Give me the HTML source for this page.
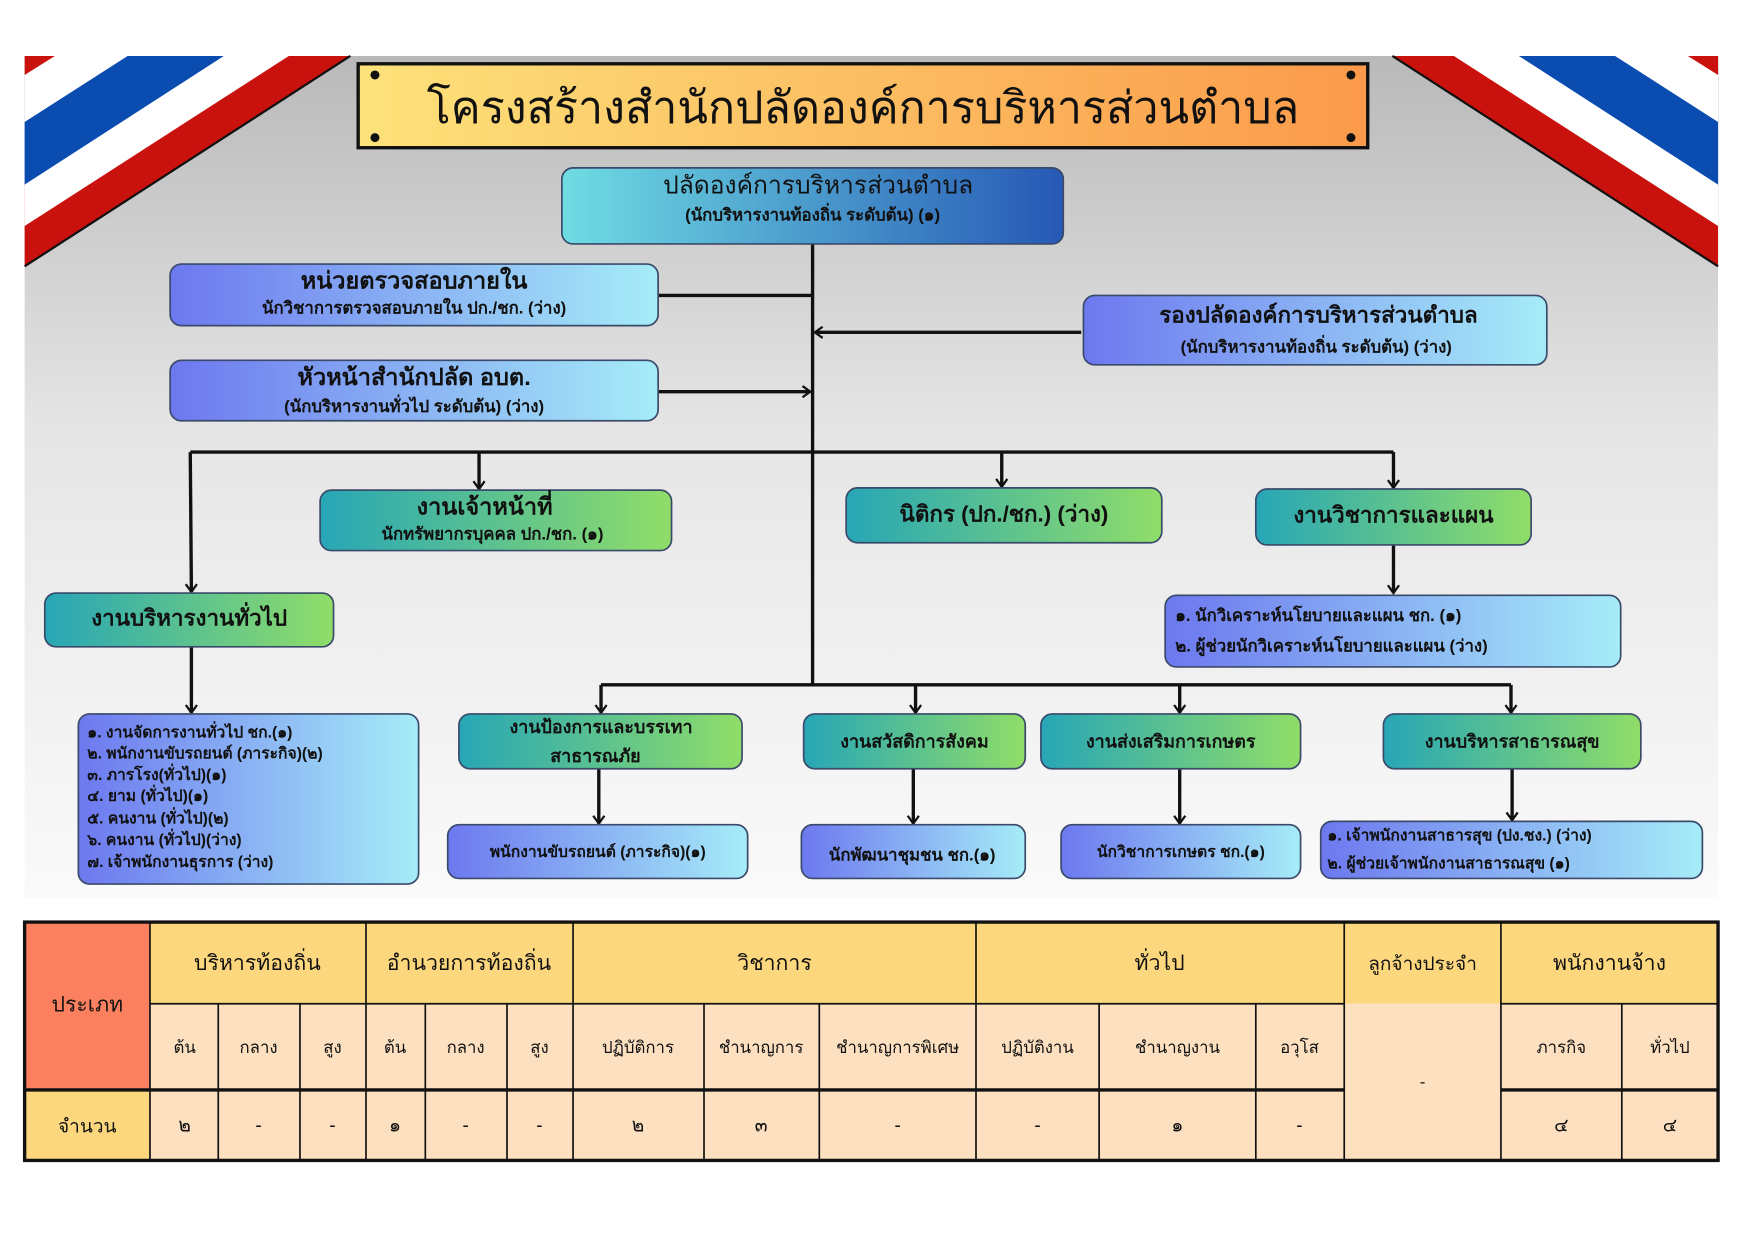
<!DOCTYPE html>
<html><head><meta charset="utf-8"><style>
html,body{margin:0;padding:0;background:#fff}
svg{display:block}
text{font-family:"Liberation Sans","Noto Sans CJK SC",sans-serif;fill:#111}
</style></head><body>
<svg width="1755" height="1241" viewBox="0 0 1568 1109" preserveAspectRatio="none" xmlns="http://www.w3.org/2000/svg">
<defs>
<linearGradient id="bg" x1="0" y1="0" x2="0" y2="1"><stop offset="0" stop-color="#b9b9b9"/><stop offset="0.45" stop-color="#e6e6e6"/><stop offset="1" stop-color="#fafafa"/></linearGradient>
<linearGradient id="ttl" x1="0" y1="0" x2="1" y2="0"><stop offset="0" stop-color="#fde27a"/><stop offset="1" stop-color="#fb9a4a"/></linearGradient>
<linearGradient id="top" x1="0" y1="0" x2="1" y2="0"><stop offset="0" stop-color="#6fdce3"/><stop offset="1" stop-color="#2658b5"/></linearGradient>
<linearGradient id="bl" x1="0" y1="0" x2="1" y2="0"><stop offset="0" stop-color="#6d78ef"/><stop offset="1" stop-color="#a6ecf8"/></linearGradient>
<linearGradient id="gr" x1="0" y1="0" x2="1" y2="0"><stop offset="0" stop-color="#27a6b6"/><stop offset="1" stop-color="#90dd68"/></linearGradient>
<marker id="ar" markerWidth="12" markerHeight="12" refX="10" refY="6" orient="auto" markerUnits="userSpaceOnUse"><polyline points="3,1 10,6 3,11" fill="none" stroke="#111" stroke-width="2"/></marker>
</defs>
<rect x="22" y="50" width="1513" height="752" fill="url(#bg)"/>
<polygon points="22,50 313,50 22,238" fill="#c9120e"/>
<line x1="313" y1="50" x2="22" y2="238" stroke="#111" stroke-width="2"/>
<polygon points="22,50 258,50 22,202" fill="#fff"/>
<polygon points="22,50 200,50 22,165" fill="#0b4cb0"/>
<polygon points="22,50 114,50 22,109" fill="#fff"/>
<polygon points="22,50 49,50 22,67" fill="#c9120e"/>
<polygon points="1535,50 1244,50 1535,238" fill="#c9120e"/>
<line x1="1244" y1="50" x2="1535" y2="238" stroke="#111" stroke-width="2"/>
<polygon points="1535,50 1299,50 1535,202" fill="#fff"/>
<polygon points="1535,50 1357,50 1535,165" fill="#0b4cb0"/>
<polygon points="1535,50 1443,50 1535,109" fill="#fff"/>
<polygon points="1535,50 1508,50 1535,67" fill="#c9120e"/>
<rect x="320" y="57" width="902" height="75" fill="url(#ttl)" stroke="#111" stroke-width="3"/>
<circle cx="335" cy="67" r="4" fill="#111"/><circle cx="1207" cy="67" r="4" fill="#111"/><circle cx="335" cy="123" r="4" fill="#111"/><circle cx="1207" cy="123" r="4" fill="#111"/>
<text x="771" y="110" font-size="40" text-anchor="middle">โครงสร้างสำนักปลัดองค์การบริหารส่วนตำบล</text>
<g stroke="#111" stroke-width="3" fill="none">
<line x1="726" y1="218" x2="726" y2="612"/>
<line x1="588" y1="264" x2="726" y2="264"/>
<line x1="966" y1="297" x2="728" y2="297" marker-end="url(#ar)"/>
<line x1="588" y1="350" x2="724" y2="350" marker-end="url(#ar)"/>
<line x1="170" y1="404" x2="1245" y2="404"/>
<line x1="170" y1="404" x2="171" y2="529" marker-end="url(#ar)"/>
<line x1="428" y1="404" x2="428" y2="437" marker-end="url(#ar)"/>
<line x1="895" y1="404" x2="895" y2="435" marker-end="url(#ar)"/>
<line x1="1245" y1="404" x2="1245" y2="436" marker-end="url(#ar)"/>
<line x1="1245" y1="487" x2="1245" y2="530" marker-end="url(#ar)"/>
<line x1="171" y1="578" x2="171" y2="637" marker-end="url(#ar)"/>
<line x1="537" y1="612" x2="1350" y2="612"/>
<line x1="537" y1="612" x2="537" y2="637" marker-end="url(#ar)"/>
<line x1="818" y1="612" x2="818" y2="637" marker-end="url(#ar)"/>
<line x1="1054" y1="612" x2="1054" y2="637" marker-end="url(#ar)"/>
<line x1="1350" y1="612" x2="1350" y2="637" marker-end="url(#ar)"/>
<line x1="535" y1="687" x2="535" y2="736" marker-end="url(#ar)"/>
<line x1="816" y1="687" x2="816" y2="736" marker-end="url(#ar)"/>
<line x1="1054" y1="687" x2="1054" y2="736" marker-end="url(#ar)"/>
<line x1="1351" y1="687" x2="1351" y2="733" marker-end="url(#ar)"/>
</g>
<g stroke="#3a4a6a" stroke-width="1.5">
<rect x="502" y="150" width="448" height="68" rx="10" fill="url(#top)"/>
<rect x="152" y="236" width="436" height="55" rx="10" fill="url(#bl)"/>
<rect x="152" y="322" width="436" height="54" rx="10" fill="url(#bl)"/>
<rect x="968" y="264" width="414" height="62" rx="10" fill="url(#bl)"/>
<rect x="286" y="438" width="314" height="54" rx="10" fill="url(#gr)"/>
<rect x="756" y="436" width="282" height="49" rx="10" fill="url(#gr)"/>
<rect x="1122" y="437" width="246" height="50" rx="10" fill="url(#gr)"/>
<rect x="40" y="530" width="258" height="48" rx="10" fill="url(#gr)"/>
<rect x="70" y="638" width="304" height="152" rx="10" fill="url(#bl)"/>
<rect x="1041" y="532" width="407" height="64" rx="10" fill="url(#bl)"/>
<rect x="410" y="638" width="253" height="49" rx="10" fill="url(#gr)"/>
<rect x="718" y="638" width="198" height="49" rx="10" fill="url(#gr)"/>
<rect x="930" y="638" width="232" height="49" rx="10" fill="url(#gr)"/>
<rect x="1236" y="638" width="230" height="49" rx="10" fill="url(#gr)"/>
<rect x="400" y="737" width="268" height="48" rx="10" fill="url(#bl)"/>
<rect x="716" y="737" width="200" height="48" rx="10" fill="url(#bl)"/>
<rect x="948" y="737" width="214" height="48" rx="10" fill="url(#bl)"/>
<rect x="1180" y="734" width="341" height="51" rx="10" fill="url(#bl)"/>
</g>
<g text-anchor="middle">
<text x="731" y="173" font-size="22">ปลัดองค์การบริหารส่วนตำบล</text>
<text x="726" y="197" font-size="15" font-weight="bold">(นักบริหารงานท้องถิ่น ระดับต้น) (๑)</text>
<text x="370" y="258" font-size="21" font-weight="bold">หน่วยตรวจสอบภายใน</text>
<text x="370" y="280" font-size="15" font-weight="bold">นักวิชาการตรวจสอบภายใน ปก./ชก. (ว่าง)</text>
<text x="370" y="344" font-size="21" font-weight="bold">หัวหน้าสำนักปลัด อบต.</text>
<text x="370" y="368" font-size="15" font-weight="bold">(นักบริหารงานทั่วไป ระดับต้น) (ว่าง)</text>
<text x="1178" y="288" font-size="20" font-weight="bold">รองปลัดองค์การบริหารส่วนตำบล</text>
<text x="1176" y="315" font-size="15" font-weight="bold">(นักบริหารงานท้องถิ่น ระดับต้น) (ว่าง)</text>
<text x="433" y="460" font-size="21" font-weight="bold">งานเจ้าหน้าที่</text>
<text x="440" y="482" font-size="15" font-weight="bold">นักทรัพยากรบุคคล ปก./ชก. (๑)</text>
<text x="897" y="466" font-size="20" font-weight="bold">นิติกร (ปก./ชก.) (ว่าง)</text>
<text x="1245" y="467" font-size="20" font-weight="bold">งานวิชาการและแผน</text>
<text x="169" y="559" font-size="20" font-weight="bold">งานบริหารงานทั่วไป</text>
<text x="537" y="655" font-size="16" font-weight="bold">งานป้องการและบรรเทา</text>
<text x="532" y="681" font-size="16" font-weight="bold">สาธารณภัย</text>
<text x="817" y="668" font-size="16" font-weight="bold">งานสวัสดิการสังคม</text>
<text x="1046" y="668" font-size="16" font-weight="bold">งานส่งเสริมการเกษตร</text>
<text x="1351" y="668" font-size="16" font-weight="bold">งานบริหารสาธารณสุข</text>
<text x="534" y="766" font-size="14" font-weight="bold">พนักงานขับรถยนต์ (ภาระกิจ)(๑)</text>
<text x="815" y="769" font-size="15" font-weight="bold">นักพัฒนาชุมชน ชก.(๑)</text>
<text x="1055" y="766" font-size="14" font-weight="bold">นักวิชาการเกษตร ชก.(๑)</text>
</g>
<g font-size="14" font-weight="bold">
<text x="78" y="659">๑. งานจัดการงานทั่วไป ชก.(๑)</text>
<text x="78" y="678">๒. พนักงานขับรถยนต์ (ภาระกิจ)(๒)</text>
<text x="78" y="697">๓. ภารโรง(ทั่วไป)(๑)</text>
<text x="78" y="716">๔. ยาม (ทั่วไป)(๑)</text>
<text x="78" y="736">๕. คนงาน (ทั่วไป)(๒)</text>
<text x="78" y="755">๖. คนงาน (ทั่วไป)(ว่าง)</text>
<text x="78" y="775">๗. เจ้าพนักงานธุรการ (ว่าง)</text>
<text x="1050" y="555" font-size="15">๑. นักวิเคราะห์นโยบายและแผน ชก. (๑)</text>
<text x="1050" y="582" font-size="15">๒. ผู้ช่วยนักวิเคราะห์นโยบายและแผน (ว่าง)</text>
<text x="1186" y="751">๑. เจ้าพนักงานสาธารสุข (ปง.ชง.) (ว่าง)</text>
<text x="1186" y="776">๒. ผู้ช่วยเจ้าพนักงานสาธารณสุข (๑)</text>
</g>
<rect x="22" y="824" width="112" height="150" fill="#fb8060"/>
<rect x="22" y="974" width="112" height="63" fill="#fcd77e"/>
<rect x="134" y="824" width="1401" height="73" fill="#fcd77e"/>
<rect x="134" y="897" width="1401" height="140" fill="#fde0c0"/>
<g stroke="#111" stroke-width="1.5">
<line x1="134" y1="897" x2="1201" y2="897"/><line x1="1341" y1="897" x2="1535" y2="897"/>
<line x1="195" y1="897" x2="195" y2="1037"/><line x1="268" y1="897" x2="268" y2="1037"/>
<line x1="380" y1="897" x2="380" y2="1037"/><line x1="453" y1="897" x2="453" y2="1037"/>
<line x1="629" y1="897" x2="629" y2="1037"/><line x1="732" y1="897" x2="732" y2="1037"/>
<line x1="982" y1="897" x2="982" y2="1037"/><line x1="1122" y1="897" x2="1122" y2="1037"/>
<line x1="1449" y1="897" x2="1449" y2="1037"/>
<line x1="134" y1="824" x2="134" y2="1037"/><line x1="327" y1="824" x2="327" y2="1037"/>
<line x1="512" y1="824" x2="512" y2="1037"/><line x1="872" y1="824" x2="872" y2="1037"/>
<line x1="1201" y1="824" x2="1201" y2="1037"/><line x1="1341" y1="824" x2="1341" y2="1037"/>
</g>
<g stroke="#111" stroke-width="3" fill="none">
<rect x="22" y="824" width="1513" height="213"/>
<line x1="22" y1="974" x2="1201" y2="974"/><line x1="1341" y1="974" x2="1535" y2="974"/>
</g>
<g text-anchor="middle" font-size="19">
<text x="78" y="904">ประเภท</text><text x="78" y="1012" font-size="17">จำนวน</text>
<text x="230" y="867">บริหารท้องถิ่น</text><text x="419" y="867">อำนวยการท้องถิ่น</text>
<text x="692" y="867">วิชาการ</text><text x="1036" y="867">ทั่วไป</text>
<text x="1271" y="867" font-size="17">ลูกจ้างประจำ</text><text x="1438" y="867">พนักงานจ้าง</text>
</g>
<g text-anchor="middle" font-size="15">
<text x="165" y="941">ต้น</text><text x="231" y="941">กลาง</text><text x="297" y="941">สูง</text>
<text x="353" y="941">ต้น</text><text x="416" y="941">กลาง</text><text x="482" y="941">สูง</text>
<text x="570" y="941">ปฏิบัติการ</text><text x="680" y="941">ชำนาญการ</text><text x="802" y="941">ชำนาญการพิเศษ</text>
<text x="927" y="941">ปฏิบัติงาน</text><text x="1052" y="941">ชำนาญงาน</text><text x="1161" y="941">อวุโส</text>
<text x="1395" y="941">ภารกิจ</text><text x="1492" y="941">ทั่วไป</text>
<text x="1271" y="972">-</text>
</g>
<g text-anchor="middle" font-size="17">
<text x="165" y="1011">๒</text><text x="231" y="1011">-</text><text x="297" y="1011">-</text>
<text x="353" y="1011">๑</text><text x="416" y="1011">-</text><text x="482" y="1011">-</text>
<text x="570" y="1011">๒</text><text x="680" y="1011">๓</text><text x="802" y="1011">-</text>
<text x="927" y="1011">-</text><text x="1052" y="1011">๑</text><text x="1161" y="1011">-</text>
<text x="1395" y="1011">๔</text><text x="1492" y="1011">๔</text>
</g>
</svg>
</body></html>
